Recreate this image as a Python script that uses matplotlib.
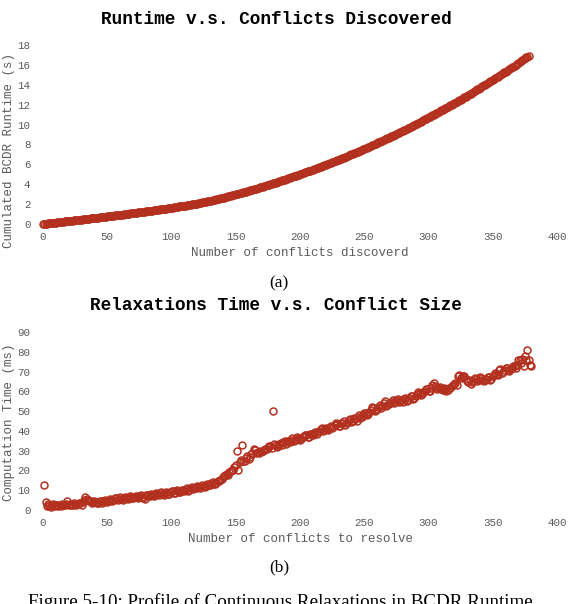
import matplotlib
matplotlib.use("Agg")
import matplotlib.pyplot as plt

# ---------------- data ----------------
# (a) cumulated BCDR runtime (s) vs number of conflicts discovered
conflicts_a = list(range(0, 379))
runtime_s = [
    0.00, 0.02, 0.03, 0.05, 0.06, 0.08, 0.09, 0.11, 0.12, 0.14,
    0.15, 0.17, 0.18, 0.20, 0.21, 0.23, 0.24, 0.26, 0.27, 0.29,
    0.30, 0.32, 0.33, 0.35, 0.36, 0.38, 0.39, 0.41, 0.42, 0.44,
    0.45, 0.47, 0.48, 0.50, 0.51, 0.53, 0.54, 0.56, 0.57, 0.59,
    0.60, 0.62, 0.63, 0.65, 0.66, 0.68, 0.70, 0.71, 0.73, 0.74,
    0.76, 0.78, 0.79, 0.81, 0.82, 0.84, 0.86, 0.87, 0.89, 0.90,
    0.92, 0.94, 0.95, 0.97, 0.99, 1.01, 1.02, 1.04, 1.06, 1.07,
    1.09, 1.11, 1.12, 1.14, 1.16, 1.18, 1.19, 1.21, 1.23, 1.24,
    1.26, 1.28, 1.30, 1.31, 1.33, 1.35, 1.37, 1.39, 1.40, 1.42,
    1.44, 1.46, 1.48, 1.50, 1.52, 1.53, 1.55, 1.57, 1.59, 1.61,
    1.63, 1.65, 1.67, 1.69, 1.71, 1.73, 1.76, 1.78, 1.80, 1.82,
    1.84, 1.86, 1.88, 1.91, 1.93, 1.95, 1.97, 2.00, 2.02, 2.04,
    2.06, 2.09, 2.11, 2.14, 2.17, 2.20, 2.22, 2.25, 2.28, 2.30,
    2.33, 2.36, 2.39, 2.42, 2.45, 2.48, 2.51, 2.54, 2.57, 2.60,
    2.63, 2.66, 2.70, 2.73, 2.77, 2.80, 2.83, 2.87, 2.90, 2.94,
    2.97, 3.01, 3.04, 3.08, 3.11, 3.15, 3.19, 3.22, 3.26, 3.29,
    3.33, 3.37, 3.41, 3.45, 3.49, 3.53, 3.56, 3.60, 3.64, 3.68,
    3.72, 3.76, 3.80, 3.84, 3.88, 3.93, 3.97, 4.01, 4.05, 4.09,
    4.13, 4.17, 4.22, 4.26, 4.30, 4.35, 4.39, 4.43, 4.47, 4.52,
    4.56, 4.60, 4.65, 4.69, 4.74, 4.78, 4.82, 4.87, 4.91, 4.96,
    5.00, 5.05, 5.09, 5.14, 5.18, 5.23, 5.28, 5.32, 5.37, 5.41,
    5.46, 5.51, 5.56, 5.61, 5.66, 5.70, 5.75, 5.80, 5.85, 5.90,
    5.95, 6.00, 6.05, 6.10, 6.15, 6.21, 6.26, 6.31, 6.36, 6.41,
    6.46, 6.51, 6.57, 6.62, 6.68, 6.73, 6.78, 6.84, 6.89, 6.95,
    7.00, 7.06, 7.11, 7.17, 7.22, 7.28, 7.34, 7.39, 7.45, 7.50,
    7.56, 7.62, 7.68, 7.74, 7.79, 7.85, 7.91, 7.97, 8.02, 8.08,
    8.14, 8.20, 8.26, 8.32, 8.38, 8.44, 8.50, 8.56, 8.62, 8.68,
    8.74, 8.80, 8.87, 8.93, 8.99, 9.05, 9.12, 9.18, 9.24, 9.31,
    9.37, 9.43, 9.50, 9.56, 9.63, 9.69, 9.76, 9.82, 9.89, 9.95,
    10.02, 10.09, 10.16, 10.23, 10.30, 10.37, 10.44, 10.51, 10.58, 10.65,
    10.72, 10.79, 10.86, 10.93, 11.00, 11.07, 11.14, 11.21, 11.28, 11.35,
    11.42, 11.49, 11.56, 11.64, 11.71, 11.78, 11.85, 11.93, 12.00, 12.07,
    12.14, 12.21, 12.29, 12.36, 12.44, 12.51, 12.58, 12.66, 12.73, 12.81,
    12.88, 12.96, 13.04, 13.12, 13.21, 13.29, 13.37, 13.45, 13.54, 13.62,
    13.70, 13.78, 13.86, 13.94, 14.02, 14.10, 14.18, 14.26, 14.34, 14.42,
    14.50, 14.58, 14.66, 14.75, 14.83, 14.91, 14.99, 15.08, 15.16, 15.24,
    15.32, 15.41, 15.49, 15.58, 15.66, 15.74, 15.82, 15.91, 15.99, 16.08,
    16.16, 16.25, 16.35, 16.45, 16.55, 16.65, 16.75, 16.84, 16.92,
]

# (b) relaxation computation time (ms) vs number of conflicts to resolve
conflicts_b = list(range(1, 381))
relax_ms = [
    12.8, 3.9, 2.1, 2.8, 2.2, 1.7, 2.5, 2.9, 2.0, 2.6,
    2.6, 2.1, 2.3, 1.8, 2.8, 2.4, 2.4, 3.0, 4.7, 2.6,
    3.0, 2.4, 2.6, 3.4, 3.2, 2.5, 2.8, 3.6, 3.3, 2.7,
    3.9, 5.0, 6.7, 5.8, 5.2, 4.3, 4.6, 3.5, 3.8, 4.6,
    4.2, 3.4, 3.7, 4.8, 4.4, 3.6, 4.0, 5.2, 4.8, 4.1,
    4.5, 5.6, 5.3, 4.7, 5.0, 5.9, 6.2, 5.1, 5.4, 6.4,
    5.8, 5.2, 6.3, 6.8, 5.9, 5.5, 6.6, 7.0, 6.2, 5.9,
    6.8, 7.3, 6.4, 6.1, 7.0, 7.5, 6.7, 6.3, 5.6, 7.6,
    7.4, 6.9, 7.1, 8.0, 7.8, 7.2, 7.5, 8.4, 8.1, 7.6,
    8.6, 8.9, 7.9, 7.6, 8.5, 9.1, 8.2, 8.0, 9.0, 9.6,
    9.4, 8.6, 8.8, 9.9, 9.6, 9.0, 9.3, 10.3, 10.0, 9.5,
    10.4, 11.0, 9.8, 10.2, 10.9, 11.5, 10.5, 11.0, 11.3, 12.1,
    11.8, 11.1, 11.4, 12.6, 12.3, 11.7, 12.0, 13.0, 12.8, 12.4,
    13.4, 14.0, 12.9, 13.3, 13.8, 14.8, 14.5, 15.0, 15.6, 16.5,
    17.2, 17.8, 18.3, 17.6, 19.0, 19.6, 20.4, 20.0, 21.5, 22.6,
    30.0, 20.2, 24.5, 25.4, 33.0, 24.8, 25.0, 26.2, 27.5, 26.0,
    26.8, 28.2, 29.0, 30.6, 30.2, 29.0, 29.4, 28.8, 30.0, 29.2,
    29.6, 30.4, 31.0, 30.6, 31.8, 32.4, 32.5, 31.6, 50.0, 33.2,
    33.0, 31.8, 32.6, 33.4, 33.8, 32.8, 34.2, 35.0, 33.6, 34.6,
    35.0, 34.2, 35.6, 36.2, 34.8, 35.4, 36.0, 37.0, 36.6, 35.6,
    35.9, 36.8, 37.2, 38.0, 37.8, 36.8, 37.0, 38.2, 38.5, 37.8,
    39.0, 39.6, 38.2, 39.2, 40.0, 40.8, 41.5, 40.0, 40.4, 41.6,
    41.2, 40.6, 42.0, 42.6, 41.6, 42.2, 42.8, 43.8, 43.5, 42.4,
    42.6, 43.8, 44.0, 45.0, 43.2, 44.0, 44.6, 45.4, 45.8, 44.4,
    44.9, 46.6, 46.0, 45.2, 47.2, 48.0, 46.4, 47.0, 48.0, 49.0,
    49.2, 48.0, 48.5, 49.8, 50.6, 52.0, 51.8, 50.2, 50.4, 51.2,
    52.0, 53.2, 51.4, 52.6, 54.2, 55.2, 52.8, 53.2, 53.6, 54.0,
    54.8, 55.6, 53.9, 54.4, 55.6, 56.0, 54.6, 55.2, 55.4, 54.6,
    56.2, 56.6, 55.0, 55.6, 56.8, 57.8, 57.5, 56.2, 56.6, 57.6,
    58.4, 59.6, 59.2, 58.0, 58.5, 59.8, 60.2, 61.4, 61.0, 60.0,
    60.3, 61.6, 63.4, 64.0, 62.5, 62.0, 61.0, 61.8, 62.0, 61.2,
    60.6, 61.6, 61.4, 60.4, 60.8, 61.6, 61.8, 62.6, 63.0, 63.8,
    64.0, 63.2, 67.8, 68.2, 66.6, 67.2, 67.6, 68.0, 66.0, 65.4,
    64.8, 65.6, 63.8, 64.6, 65.2, 66.8, 66.4, 65.0, 65.6, 67.2,
    66.8, 65.8, 65.4, 66.4, 66.2, 67.4, 67.0, 65.8, 66.4, 67.6,
    68.2, 69.4, 69.0, 68.4, 70.6, 71.4, 69.4, 70.0, 70.8, 72.0,
    71.6, 70.6, 70.4, 71.2, 71.8, 72.8, 72.6, 72.0, 73.4, 75.8,
    75.6, 74.4, 76.2, 73.0, 78.0, 76.0, 81.0, 75.6, 73.2, 73.0,
]

x_ticks = [0, 50, 100, 150, 200, 250, 300, 350, 400]
y_ticks_a = [0, 2, 4, 6, 8, 10, 12, 14, 16, 18]
y_ticks_b = [0, 10, 20, 30, 40, 50, 60, 70, 80, 90]

# ---------------- style ----------------
W, H = 570, 604
MONO = ["Liberation Mono", "DejaVu Sans Mono"]
SERIF = ["Liberation Serif", "DejaVu Serif"]
MARK = "#b3301f"
TICKC = "#5a5a5a"

fig = plt.figure(figsize=(W / 100, H / 100), dpi=100)


def px_axes(x0, x1, ytop, ybot):
    return fig.add_axes([x0 / W, 1 - ybot / H, (x1 - x0) / W, (ybot - ytop) / H])


def style(ax, yticks, xlabel):
    ax.set_xlim(0, 400)
    ax.set_ylim(yticks[0], yticks[-1])
    ax.set_xticks(x_ticks)
    ax.set_yticks(yticks)
    for s in ax.spines.values():
        s.set_visible(False)
    ax.tick_params(length=0, labelsize=7.8, colors=TICKC)
    ax.tick_params(axis="x", pad=6)
    ax.tick_params(axis="y", pad=9)
    for lab in ax.get_xticklabels() + ax.get_yticklabels():
        lab.set_family(MONO)
    ax.set_xlabel(xlabel, family=MONO, fontsize=9, color=TICKC, labelpad=3)


mk = dict(linestyle="none", marker="o", markersize=5.0, markerfacecolor="none",
          markeredgecolor=MARK, markeredgewidth=1.1, clip_on=False)

ax1 = px_axes(43, 557, 45, 224)
ax1.plot(conflicts_a, runtime_s, **mk)
style(ax1, y_ticks_a, "Number of conflicts discoverd")

ax2 = px_axes(43, 557, 332, 510)
ax2.plot(conflicts_b, relax_ms, **mk)
style(ax2, y_ticks_b, "Number of conflicts to resolve")

fig.text(9 / W, 1 - 150 / H, "Cumulated BCDR Runtime (s)", family=MONO, fontsize=9,
         color=TICKC, rotation=90, ha="center", va="center")
fig.text(9 / W, 1 - 422 / H, "Computation Time (ms)", family=MONO, fontsize=9,
         color=TICKC, rotation=90, ha="center", va="center")

fig.text(276 / W, 1 - 20 / H, "Runtime v.s. Conflicts Discovered", family=MONO,
         fontweight="bold", fontsize=12.8, ha="center", va="center")
fig.text(276 / W, 1 - 306 / H, "Relaxations Time v.s. Conflict Size", family=MONO,
         fontweight="bold", fontsize=12.8, ha="center", va="center")

fig.text(279 / W, 1 - 283 / H, "(a)", family=SERIF, fontsize=12.5, ha="center", va="center")
fig.text(279 / W, 1 - 567 / H, "(b)", family=SERIF, fontsize=12.5, ha="center", va="center")
fig.text(280 / W, 1 - 593 / H, "Figure 5-10: Profile of Continuous Relaxations in BCDR Runtime",
         family=SERIF, fontsize=13.7, ha="center", va="top")

fig.savefig("out.png", dpi=100)
